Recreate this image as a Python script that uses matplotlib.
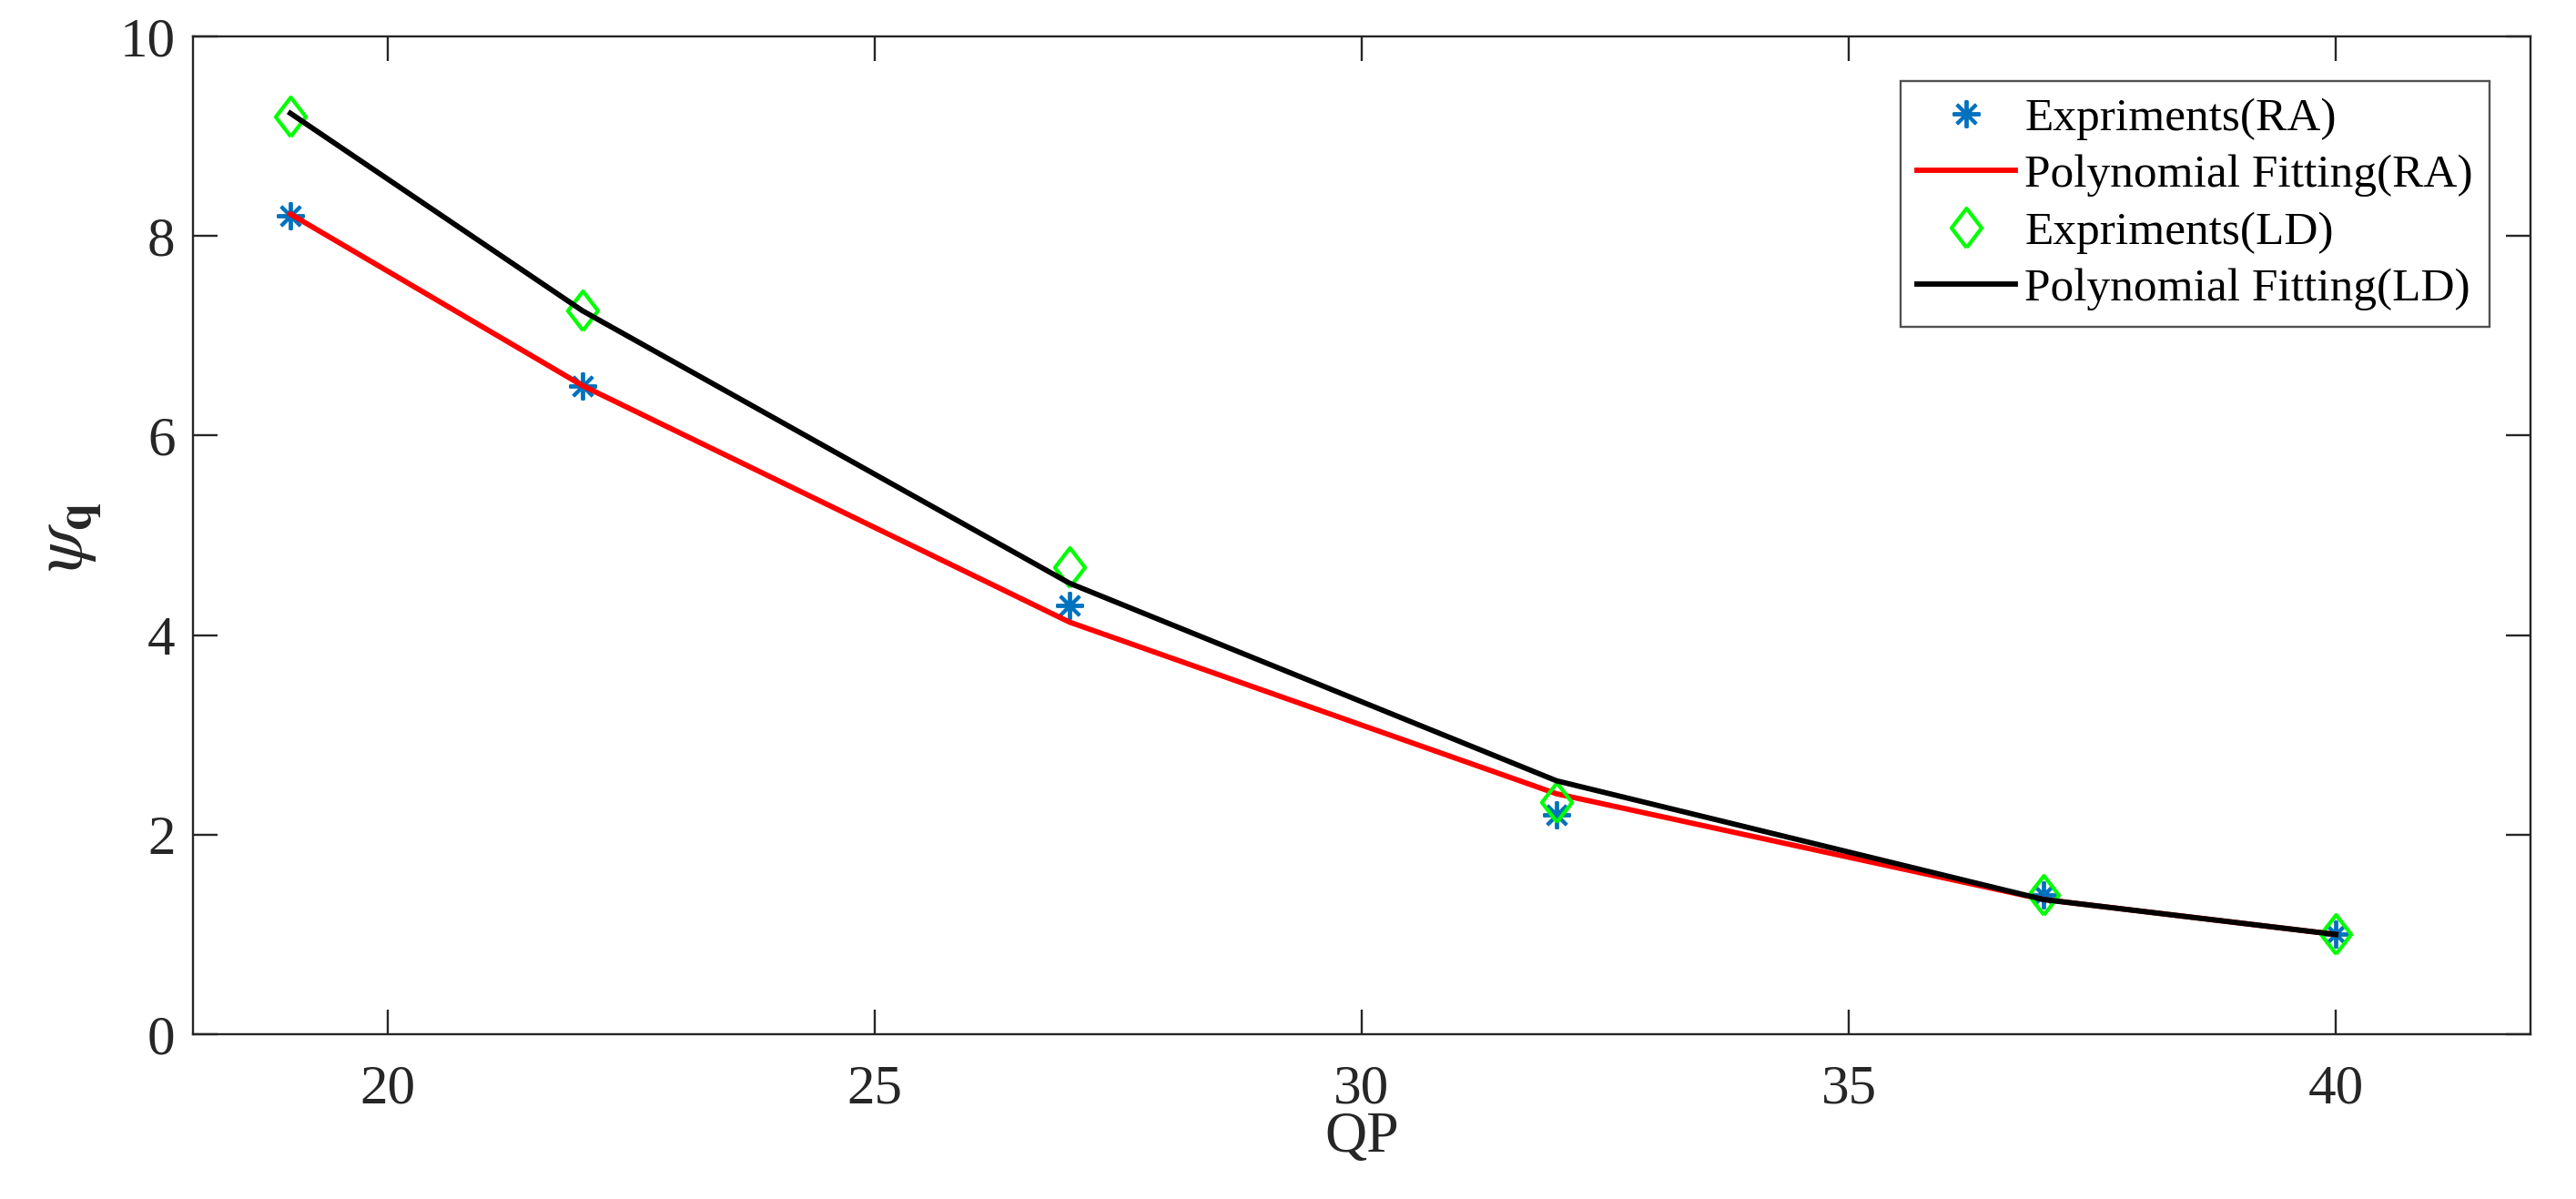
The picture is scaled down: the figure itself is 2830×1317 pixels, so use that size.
import numpy as np
import matplotlib
matplotlib.use("Agg")
import matplotlib.pyplot as plt

plt.rcParams['font.family'] = ['Liberation Serif', 'DejaVu Serif']
plt.rcParams['mathtext.fontset'] = 'stix'

qp = [19, 22, 27, 32, 37, 40]
exp_ra = [8.2, 6.5, 4.3, 2.2, 1.4, 1.0]
fit_ra = [8.22, 6.5, 4.13, 2.41, 1.35, 1.0]
exp_ld = [9.2, 7.25, 4.68, 2.33, 1.4, 1.0]
fit_ld = [9.23, 7.25, 4.52, 2.54, 1.35, 1.0]

W, H = 2830, 1317
fig = plt.figure(figsize=(W / 200, H / 200), dpi=200)
ax = fig.add_axes([212 / W, 1 - 1136 / H, (2780 - 212) / W, (1136 - 40) / H])

# MATLAB-like diamond (wider than matplotlib's thin diamond)
diamond = [(0, -1), (0.77, 0), (0, 1), (-0.77, 0), (0, -1)]

ax.plot(qp, exp_ra, linestyle='none', marker=(8, 2, 0), color='#0072BD',
        markersize=10.8, markeredgewidth=1.4, label='Expriments(RA)')
ax.plot(qp, fit_ra, color='#FF0000', lw=2.1, label='Polynomial Fitting(RA)')
ax.plot(qp, exp_ld, linestyle='none', marker=diamond, color='#00FF00',
        markerfacecolor='none', markersize=15.5, markeredgewidth=1.5,
        label='Expriments(LD)')
ax.plot(qp, fit_ld, color='black', lw=2.1, label='Polynomial Fitting(LD)')

ax.set_xlim(18, 42)
ax.set_ylim(0, 10)
ax.set_xticks([20, 25, 30, 35, 40])
ax.set_yticks([0, 2, 4, 6, 8, 10])
ax.tick_params(direction='in', length=9.7, width=0.85, colors='#262626',
               labelsize=22, top=True, right=True)
ax.tick_params(axis='x', pad=12)
ax.tick_params(axis='y', pad=7)
for s in ax.spines.values():
    s.set_color('#262626')
    s.set_linewidth(0.85)

ax.set_xlabel('QP', fontsize=23, color='#262626', labelpad=-1.5)
fig.text(78 / W, 1 - 590 / H, r'$\psi_{\mathbf{q}}$', fontsize=28,
         color='#262626', rotation=90, ha='center', va='center')

leg = ax.legend(loc='upper right', bbox_to_anchor=(2735 / W, 1 - 89 / H),
                bbox_transform=fig.transFigure, fontsize=18.5, frameon=True,
                fancybox=False, edgecolor='#262626', handlelength=2.1,
                handletextpad=0.2, labelspacing=0.3, borderpad=0.35,
                borderaxespad=0)
leg.get_frame().set_linewidth(0.85)

fig.savefig('out.png', dpi=200)
